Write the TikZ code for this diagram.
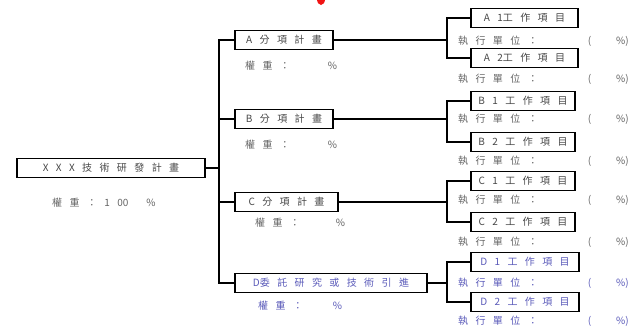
\documentclass[tikz,border=0pt]{standalone}
\usepackage{fontspec}
\newfontfamily\cjk[WordSpace=3.3]{Noto Sans CJK TC}
\definecolor{txtgray}{RGB}{70,70,70}
\definecolor{ltgray}{RGB}{100,100,100}
\definecolor{dblue}{RGB}{90,90,185}
\definecolor{redmark}{RGB}{240,20,20}
\tikzstyle{planbox}=[draw=black,line width=1.3pt,minimum height=19pt,inner sep=0pt,font=\cjk\fontsize{10}{11}\selectfont,text=txtgray]
\tikzstyle{weight}=[anchor=west,inner sep=0pt,font=\cjk\fontsize{10}{11}\selectfont,text=ltgray]
\tikzstyle{execrow}=[anchor=west,inner sep=0pt,font=\cjk\fontsize{10}{11}\selectfont,text=ltgray]
\tikzstyle{branch}=[color=black,line width=1.3pt]

\begin{document}
\begin{tikzpicture}[x=1pt,y=-1pt]
  \useasboundingbox (0,0) rectangle (635,330);

  % MARK AT TOP
  \fill[redmark] (321,-1) ellipse (4 and 6);

  % MAIN PLAN
  \node[planbox,minimum width=188pt] (root) at (111,168) {X X X 技 術 研 發 計 畫};
  \node[weight] (rootw) at (52,203) {權 重 ： 1 00\hspace{18pt}\%};

  % SUB PLANS
  \node[planbox,minimum width=98pt] (A) at (284,40) {A 分 項 計 畫};
  \node[weight] (Aw) at (245,66) {權 重 ：\hspace{38pt}\%};
  \node[planbox,minimum width=98pt] (B) at (284,119) {B 分 項 計 畫};
  \node[weight] (Bw) at (245,145) {權 重 ：\hspace{38pt}\%};
  \node[planbox,minimum width=103pt] (C) at (286.5,202) {C 分 項 計 畫};
  \node[weight] (Cw) at (255,223) {權 重 ：\hspace{36pt}\%};
  \node[planbox,minimum width=192pt,text=dblue] (D) at (331,283) {D委 託 研 究 或 技 術 引 進};
  \node[weight,text=dblue] (Dw) at (258,306) {權 重 ：\hspace{30pt}\%};

  % WORK ITEMS
  \node[planbox,minimum width=107pt] (A1) at (524.5,18) {A 1工 作 項 目};
  \node[planbox,minimum width=107pt] (A2) at (524.5,58) {A 2工 作 項 目};
  \node[planbox,minimum width=104pt] (B1) at (523,101) {B 1 工 作 項 目};
  \node[planbox,minimum width=104pt] (B2) at (523,142) {B 2 工 作 項 目};
  \node[planbox,minimum width=104pt] (C1) at (523,181) {C 1 工 作 項 目};
  \node[planbox,minimum width=104pt] (C2) at (523,222) {C 2 工 作 項 目};
  \node[planbox,minimum width=108pt,text=dblue] (D1) at (525,262) {D 1 工 作 項 目};
  \node[planbox,minimum width=108pt,text=dblue] (D2) at (525,302) {D 2 工 作 項 目};

  % EXECUTING UNITS
  \node[execrow] (A1u) at (458,41) {執 行 單 位 ：\hspace{50pt}(\hspace{25pt}\%)};
  \node[execrow] (A2u) at (458,79) {執 行 單 位 ：\hspace{50pt}(\hspace{25pt}\%)};
  \node[execrow] (B1u) at (458,119) {執 行 單 位 ：\hspace{50pt}(\hspace{25pt}\%)};
  \node[execrow] (B2u) at (458,161) {執 行 單 位 ：\hspace{50pt}(\hspace{25pt}\%)};
  \node[execrow] (C1u) at (458,200) {執 行 單 位 ：\hspace{50pt}(\hspace{25pt}\%)};
  \node[execrow] (C2u) at (458,242) {執 行 單 位 ：\hspace{50pt}(\hspace{25pt}\%)};
  \node[execrow,text=dblue] (D1u) at (458,283) {執 行 單 位 ：\hspace{50pt}(\hspace{25pt}\%)};
  \node[execrow,text=dblue] (D2u) at (458,321) {執 行 單 位 ：\hspace{50pt}(\hspace{25pt}\%)};

  % JUNCTIONS
  \coordinate (trunk) at (219,168);
  \coordinate (aJ) at (447,40);
  \coordinate (bJ) at (447,119);
  \coordinate (cJ) at (447,202);
  \coordinate (dJ) at (447,283);

  % MAIN TREE
  \draw[branch] (root.east) -- (trunk);
  \draw[branch] (A.west) -| (trunk) |- (D.west);
  \draw[branch] (B.west) -- (B.west -| trunk);
  \draw[branch] (C.west) -- (C.west -| trunk);

  % WORK ITEM BRACKETS
  \draw[branch] (A.east) -- (aJ);
  \draw[branch] (B.east) -- (bJ);
  \draw[branch] (C.east) -- (cJ);
  \draw[branch] (D.east) -- (dJ);
  \draw[branch] (A1.west) -| (aJ) |- (A2.west);
  \draw[branch] (B1.west) -| (bJ) |- (B2.west);
  \draw[branch] (C1.west) -| (cJ) |- (C2.west);
  \draw[branch] (D1.west) -| (dJ) |- (D2.west);

\end{tikzpicture}
\end{document}
